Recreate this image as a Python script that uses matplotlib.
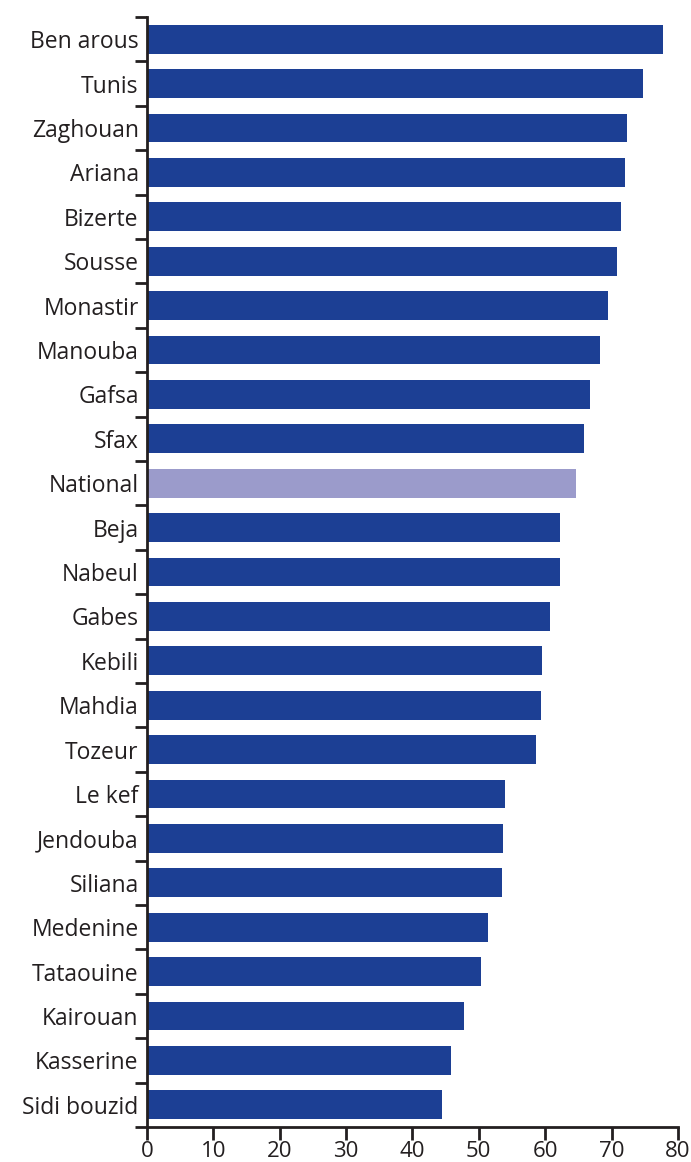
import matplotlib.pyplot as plt
import numpy as np

# Regiones (de arriba hacia abajo) y valores
regiones = ['Ben arous', 'Tunis', 'Zaghouan', 'Ariana', 'Bizerte', 'Sousse',
            'Monastir', 'Manouba', 'Gafsa', 'Sfax', 'National', 'Beja',
            'Nabeul', 'Gabes', 'Kebili', 'Mahdia', 'Tozeur', 'Le kef',
            'Jendouba', 'Siliana', 'Medenine', 'Tataouine', 'Kairouan',
            'Kasserine', 'Sidi bouzid']
valores = [77.7, 74.7, 72.3, 72.1, 71.5, 70.9, 69.4, 68.2, 66.8, 65.8, 64.7,
           62.3, 62.3, 60.8, 59.6, 59.4, 58.6, 54.0, 53.6, 53.5, 51.4, 50.3,
           47.8, 45.8, 44.5]
x_ticks = [0, 10, 20, 30, 40, 50, 60, 70, 80]

azul = '#1c3f94'
lila = '#9b9bcb'
negro = '#231f20'

plt.rcParams['font.family'] = ['Open Sans', 'DejaVu Sans']

fig = plt.figure(figsize=(6.91, 11.62), dpi=100)
ax = fig.add_axes([0.2127, 0.0301, 0.7683, 0.9553])

y = np.arange(len(regiones))
colores = [lila if r == 'National' else azul for r in regiones]
ax.barh(y, valores, height=0.65, color=colores)

ax.set_xlim(0, 80)
ax.set_ylim(len(regiones) - 0.5, -0.5)

# etiquetas en el centro, marcas en los límites entre barras
ax.set_yticks(y)
ax.set_yticklabels(regiones, fontsize=16.5, color=negro)
ax.tick_params(axis='y', which='major', length=0, pad=6)
ax.set_yticks(np.arange(len(regiones) + 1) - 0.5, minor=True)
ax.tick_params(axis='y', which='minor', length=8.5, width=2, color=negro, direction='out')

ax.set_xticks(x_ticks)
ax.set_xticklabels([str(t) for t in x_ticks], fontsize=16, color=negro)
ax.tick_params(axis='x', length=9, width=2, color=negro, pad=1)

for lado in ['top', 'right']:
    ax.spines[lado].set_visible(False)
for lado in ['left', 'bottom']:
    ax.spines[lado].set_linewidth(2)
    ax.spines[lado].set_color(negro)

plt.savefig('out.png', dpi=100)
